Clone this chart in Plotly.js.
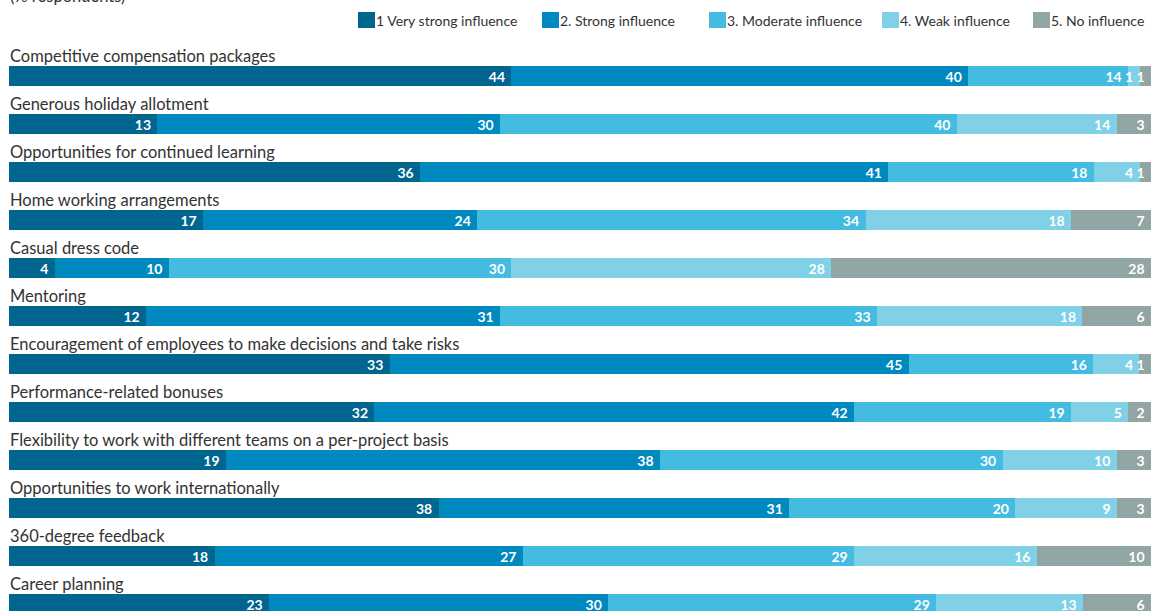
<!DOCTYPE html>
<html>
<head>
<meta charset="utf-8">
<script src="https://cdn.plot.ly/plotly-3.0.1.min.js"></script>
<style>html,body{margin:0;padding:0;background:#fff;}#chart{width:1151px;height:611px;}</style>
</head>
<body>
<div id="chart"></div>
<script>
const categories = [
  "Competitive compensation packages",
  "Generous holiday allotment",
  "Opportunities for continued learning",
  "Home working arrangements",
  "Casual dress code",
  "Mentoring",
  "Encouragement of employees to make decisions and take risks",
  "Performance-related bonuses",
  "Flexibility to work with different teams on a per-project basis",
  "Opportunities to work internationally",
  "360-degree feedback",
  "Career planning"
];
const seriesNames = ["1 Very strong influence", "2. Strong influence", "3. Moderate influence", "4. Weak influence", "5. No influence"];
const veryStrong = [44, 13, 36, 17, 4, 12, 33, 32, 19, 38, 18, 23];
const strong     = [40, 30, 41, 24, 10, 31, 45, 42, 38, 31, 27, 30];
const moderate   = [14, 40, 18, 34, 30, 33, 16, 19, 30, 20, 29, 29];
const weak       = [1, 14, 4, 18, 28, 18, 4, 5, 10, 9, 16, 13];
const noInfl     = [1, 3, 1, 7, 28, 6, 1, 2, 3, 3, 10, 6];
const subtitle = "(% respondents)";

const colors = ["#00658F", "#0089BF", "#44BBE0", "#80D0E7", "#91A6A4"];
const seriesValues = [veryStrong, strong, moderate, weak, noInfl];
const FONT = "Lato, 'Open Sans', sans-serif";

const traces = seriesValues.map((vals, k) => ({
  type: "bar",
  orientation: "h",
  name: seriesNames[k],
  y: categories,
  x: vals,
  text: vals.map(String),
  texttemplate: "%{text}\u00a0",
  textposition: "inside",
  insidetextanchor: "end",
  textangle: 0,
  constraintext: "none",
  insidetextfont: {family: FONT, size: 14, color: "#ffffff", weight: "bold"},
  marker: {color: colors[k], line: {width: 0}},
  width: 0.42,
  hoverinfo: "skip",
  showlegend: false
}));

const W = 1151, H = 611, L = 9, R = 0;
const px = p => (p - L) / (W - L - R);
const py = p => 1 - p / H;

const annotations = categories.map(c => ({
  xref: "paper", yref: "y", x: 0, y: c,
  xanchor: "left", yanchor: "bottom", xshift: -1, yshift: 8,
  text: c, showarrow: false,
  font: {family: FONT, size: 16.5, color: "#333333"}
}));
annotations.push({
  xref: "paper", yref: "paper", x: px(9), y: py(-4),
  xanchor: "left", yanchor: "middle", xshift: -1,
  text: subtitle, showarrow: false,
  font: {family: FONT, size: 16.5, color: "#333333"}
});

const legendX = [358, 542, 709, 882, 1033];
const shapes = [];
seriesNames.forEach((n, k) => {
  shapes.push({type: "rect", xref: "paper", yref: "paper",
    x0: px(legendX[k]), x1: px(legendX[k] + 17), y0: py(28), y1: py(12),
    fillcolor: colors[k], line: {width: 0}});
  annotations.push({xref: "paper", yref: "paper", x: px(legendX[k] + 17), y: py(20),
    xanchor: "left", yanchor: "middle", text: n, showarrow: false, xshift: -1,
    font: {family: FONT, size: 14, color: "#333333"}});
});

const layout = {
  width: W, height: H,
  margin: {l: L, r: R, t: 0, b: 0, pad: 0},
  paper_bgcolor: "#ffffff", plot_bgcolor: "#ffffff",
  barmode: "stack", barnorm: "percent",
  bargap: 0,
  xaxis: {range: [0, 100], visible: false, fixedrange: true},
  yaxis: {type: "category", categoryorder: "array", categoryarray: categories,
          range: [11.1458, -1.5833], visible: false, fixedrange: true},
  uniformtext: {mode: "show", minsize: 14},
  annotations: annotations,
  shapes: shapes,
  showlegend: false
};

Plotly.newPlot("chart", traces, layout, {displayModeBar: false, staticPlot: true});
</script>
</body>
</html>
